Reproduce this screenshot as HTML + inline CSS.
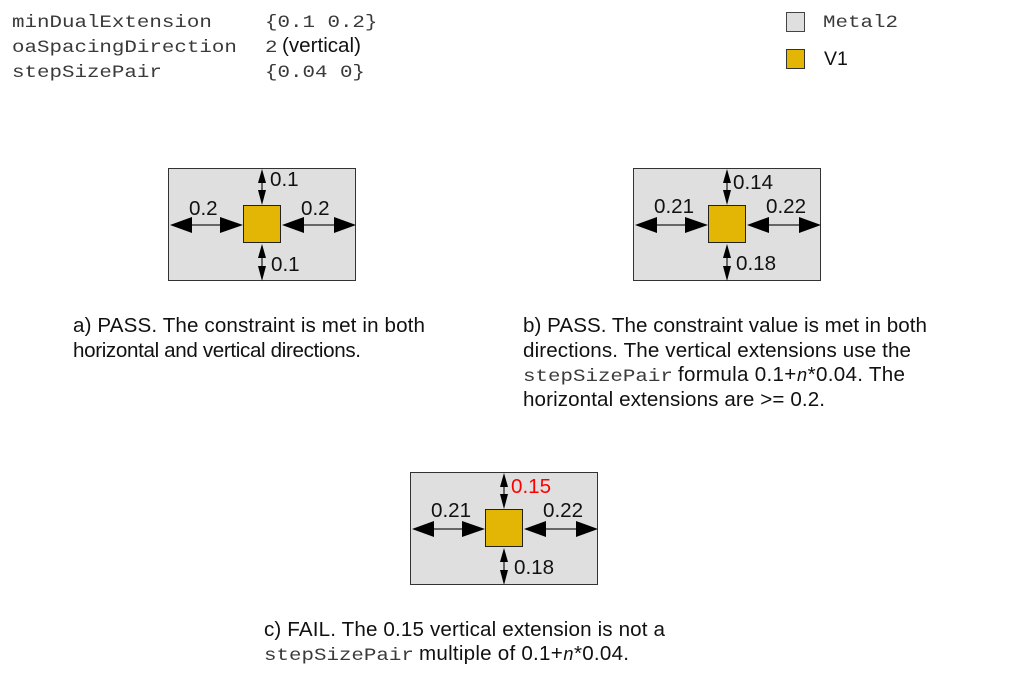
<!DOCTYPE html>
<html>
<head>
<meta charset="utf-8">
<style>
html,body{margin:0;padding:0;background:#fff;width:1013px;height:695px;overflow:hidden}
svg{display:block}
text{font-family:"Liberation Sans",sans-serif;font-size:20.6px;fill:#111}
.m{font-family:"Liberation Mono",monospace;font-size:18px;fill:#3a3a3a}
.l{font-size:20.6px}
</style>
</head>
<body>
<svg width="1013" height="695" viewBox="0 0 1013 695" xmlns="http://www.w3.org/2000/svg">
<defs>
<g id="fig">
<rect x="0.5" y="0.5" width="187" height="112" fill="#dfdfdf" stroke="#333" stroke-width="1"/>
<rect x="75.5" y="37.5" width="37" height="37" fill="#e3b505" stroke="#222" stroke-width="1"/>
<line x1="20" y1="57" x2="60" y2="57" stroke="#666" stroke-width="2"/>
<line x1="128" y1="57" x2="170" y2="57" stroke="#666" stroke-width="2"/>
<polygon points="2,57 24,49 24,65" fill="#000"/>
<polygon points="75,57 52,49 52,65" fill="#000"/>
<polygon points="114,57 136,49 136,65" fill="#000"/>
<polygon points="188,57 166,49 166,65" fill="#000"/>
<line x1="94" y1="10" x2="94" y2="30" stroke="#666" stroke-width="2"/>
<line x1="94" y1="85" x2="94" y2="105" stroke="#666" stroke-width="2"/>
<polygon points="94,1 90,15 98,15" fill="#000"/>
<polygon points="94,37 90,22 98,22" fill="#000"/>
<polygon points="94,76 90,90 98,90" fill="#000"/>
<polygon points="94,113 90,98 98,98" fill="#000"/>
</g>
</defs>

<text class="m" transform="translate(12,27) scale(1.157,1)">minDualExtension</text>
<text class="m" transform="translate(265,27) scale(1.157,1)">{0.1 0.2}</text>
<text class="m" transform="translate(12,52) scale(1.157,1)">oaSpacingDirection</text>
<text class="m" transform="translate(265,52) scale(1.157,1)">2</text>
<text x="282" y="52">(vertical)</text>
<text class="m" transform="translate(12,77) scale(1.157,1)">stepSizePair</text>
<text class="m" transform="translate(265,77) scale(1.157,1)">{0.04 0}</text>

<rect x="786.5" y="12.5" width="18" height="19" fill="#dfdfdf" stroke="#444"/>
<text class="m" transform="translate(823,27) scale(1.157,1)">Metal2</text>
<rect x="786.5" y="49.5" width="18" height="19" fill="#e3b505" stroke="#333"/>
<text x="824" y="65" style="font-size:19.5px">V1</text>

<use href="#fig" x="168" y="168"/>
<use href="#fig" x="633" y="168"/>
<use href="#fig" x="410" y="472"/>

<text class="l" x="189" y="215">0.2</text>
<text class="l" x="301" y="215">0.2</text>
<text class="l" x="270" y="186">0.1</text>
<text class="l" x="271" y="271">0.1</text>

<text class="l" x="654" y="213">0.21</text>
<text class="l" x="766" y="213">0.22</text>
<text class="l" x="733" y="189">0.14</text>
<text class="l" x="736" y="270">0.18</text>

<text class="l" x="431" y="517">0.21</text>
<text class="l" x="543" y="517">0.22</text>
<text class="l" x="511" y="493" style="fill:#f00">0.15</text>
<text class="l" x="514" y="574">0.18</text>

<text x="73" y="332" textLength="352">a) PASS. The constraint is met in both</text>
<text x="73" y="357" textLength="288">horizontal and vertical directions.</text>

<text x="523" y="332" textLength="404">b) PASS. The constraint value is met in both</text>
<text x="523" y="357" textLength="388">directions. The vertical extensions use the</text>
<text class="m" transform="translate(523,381) scale(1.157,1)">stepSizePair</text>
<text x="678" y="381" textLength="227">formula 0.1+<tspan font-family="Liberation Mono" font-style="italic" font-size="18">n</tspan>*0.04. The</text>
<text x="523" y="406" textLength="302">horizontal extensions are &gt;= 0.2.</text>

<text x="264" y="636" textLength="401">c) FAIL. The 0.15 vertical extension is not a</text>
<text class="m" transform="translate(264,660) scale(1.157,1)">stepSizePair</text>
<text x="419" y="660" textLength="210">multiple of 0.1+<tspan font-family="Liberation Mono" font-style="italic" font-size="18">n</tspan>*0.04.</text>
</svg>
</body>
</html>
